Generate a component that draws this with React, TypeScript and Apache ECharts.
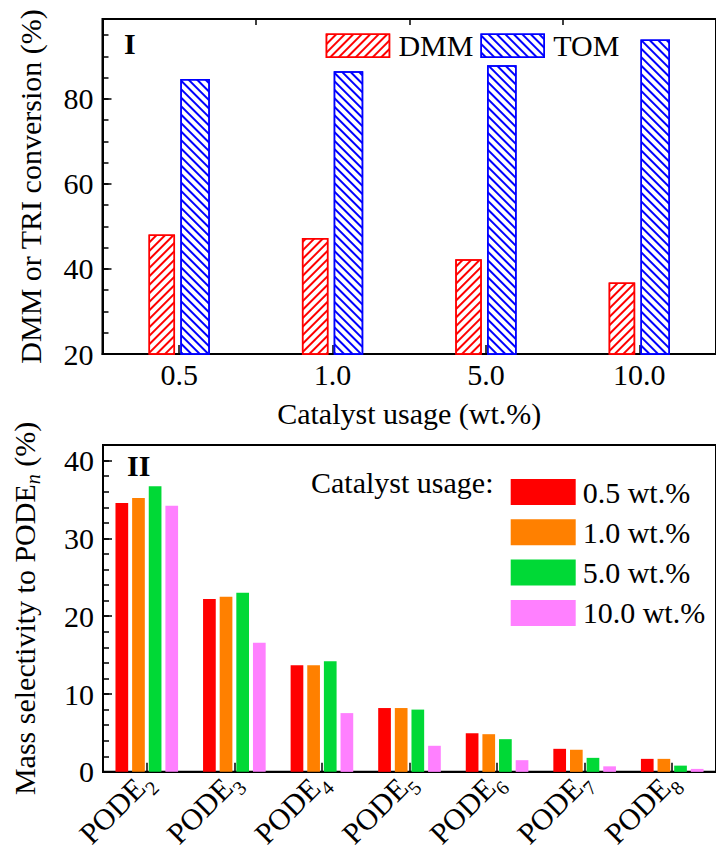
import React, { useEffect, useRef } from 'react';
import * as echarts from 'echarts';

// ---------- Data ----------
const usageCats = ['0.5', '1.0', '5.0', '10.0'];
const dmmConv = [48.1, 47.3, 42.3, 36.8];
const tomConv = [84.7, 86.5, 87.9, 94.0];

const podeCats = ['2', '3', '4', '5', '6', '7', '8'];
const sel05 = [34.55, 22.2, 13.7, 8.2, 4.96, 2.96, 1.67];
const sel10 = [35.2, 22.5, 13.7, 8.2, 4.84, 2.84, 1.67];
const sel50 = [36.7, 23.0, 14.2, 8.0, 4.2, 1.8, 0.8];
const sel100 = [34.2, 16.6, 7.55, 3.35, 1.5, 0.71, 0.38];
const usageLegend = ['0.5 wt.%', '1.0 wt.%', '5.0 wt.%', '10.0 wt.%'];
const usageColors = ['#ff0000', '#ff8000', '#00d936', '#ff80ff'];

const FONT = 'Liberation Serif';
const txt = { fontFamily: FONT, fontSize: 30, color: '#000' };

export default function App() {
  const ref = useRef<HTMLDivElement>(null);
  useEffect(() => {
    if (!ref.current) return;
    const chart = echarts.init(ref.current, undefined, { renderer: 'svg' });
    const axisLine = { show: true, onZero: false, lineStyle: { color: '#000', width: 2 } };
    const hatch = (color: string, rot: number) => ({
      symbol: 'rect',
      symbolSize: 1,
      dashArrayX: [1, 0],
      dashArrayY: [1.3, 3.5],
      rotation: rot,
      color,
    });
    const selSeries = [sel05, sel10, sel50, sel100].map((d, i) => ({
      name: usageLegend[i],
      type: 'bar',
      xAxisIndex: 2,
      yAxisIndex: 2,
      data: d,
      barWidth: 12.7,
      barGap: '31%',
      itemStyle: { color: usageColors[i] },
    }));
    const option: any = {
      animation: false,
      backgroundColor: '#fff',
      textStyle: { fontFamily: FONT },
      grid: [
        { left: 102.5, top: 19, width: 614.5, height: 335, show: true, borderColor: '#000', borderWidth: 2 },
        { left: 103, top: 445, width: 614.6, height: 336, show: true, borderColor: '#000', borderWidth: 2 },
      ],
      legend: [
        {
          data: ['DMM', 'TOM'],
          left: 325.7,
          top: 30.7,
          padding: 0,
          icon: 'rect',
          itemWidth: 63,
          itemHeight: 23,
          itemGap: 7,
          selectedMode: false,
          itemStyle: { borderWidth: 1.5 },
          textStyle: { ...txt, lineHeight: 24, padding: [0, 0, 0, 4] },
        },
        {
          data: usageLegend,
          orient: 'vertical',
          left: 510.7,
          top: 477,
          padding: 0,
          icon: 'rect',
          itemWidth: 65,
          itemHeight: 26,
          itemGap: 10.3,
          selectedMode: false,
          textStyle: { ...txt, lineHeight: 26, padding: [0, 0, 0, 2] },
        },
      ],
      xAxis: [
        {
          gridIndex: 0,
          type: 'category',
          data: usageCats,
          axisLine,
          axisTick: { show: true, inside: true, alignWithLabel: true, length: 9, lineStyle: { color: '#000', width: 1.5 } },
          axisLabel: { ...txt, margin: 5 },
          name: 'Catalyst usage (wt.%)',
          nameLocation: 'middle',
          nameGap: 44,
          nameTextStyle: txt,
          splitLine: { show: false },
        },
        {
          gridIndex: 0,
          type: 'category',
          data: usageCats,
          axisLine: { show: false },
          axisTick: { show: true, inside: true, length: 6, lineStyle: { color: '#000', width: 1.5 } },
          axisLabel: { show: false },
          splitLine: { show: false },
        },
        {
          gridIndex: 1,
          type: 'category',
          data: podeCats,
          axisLine,
          axisTick: { show: true, inside: true, alignWithLabel: true, length: 9, lineStyle: { color: '#000', width: 1.5 } },
          axisLabel: {
            rotate: 45,
            margin: 4,
            formatter: (v: string) => `{a|PODE}{b|${v}}`,
            rich: {
              a: { ...txt },
              b: { ...txt, fontSize: 20, padding: [24, 0, 0, 0] },
            },
          },
          splitLine: { show: false },
        },
      ],
      yAxis: [
        {
          gridIndex: 0,
          type: 'value',
          min: 20,
          max: 98.8,
          interval: 20,
          position: 'left',
          axisLine,
          axisTick: { show: true, inside: true, length: 9, lineStyle: { color: '#000', width: 1.5 } },
          axisLabel: { ...txt, margin: 9, showMaxLabel: false },
          splitLine: { show: false },
          name: 'DMM or TRI conversion (%)',
          nameLocation: 'middle',
          nameRotate: 90,
          nameGap: 57,
          nameTextStyle: txt,
        },
        {
          gridIndex: 0,
          type: 'value',
          min: 20,
          max: 98.8,
          interval: 5,
          position: 'left',
          axisLine: { show: false },
          axisTick: { show: true, inside: true, length: 6, lineStyle: { color: '#000', width: 1.5 } },
          axisLabel: { show: false },
          splitLine: { show: false },
        },
        {
          gridIndex: 1,
          type: 'value',
          min: 0,
          max: 42,
          interval: 10,
          position: 'left',
          axisLine,
          axisTick: { show: true, inside: true, length: 9, lineStyle: { color: '#000', width: 1.5 } },
          axisLabel: { ...txt, margin: 9, showMaxLabel: false },
          splitLine: { show: false },
          name: '{a|Mass selectivity to PODE}{n|n}{a| (%)}',
          nameLocation: 'middle',
          nameRotate: 90,
          nameGap: 60,
          nameTextStyle: {
            ...txt,
            rich: {
              a: { ...txt },
              n: { ...txt, fontSize: 20, fontStyle: 'italic', padding: [18, 0, 0, 0] },
            },
          },
        },
        {
          gridIndex: 1,
          type: 'value',
          min: 0,
          max: 42,
          interval: 2,
          position: 'left',
          axisLine: { show: false },
          axisTick: { show: true, inside: true, length: 6, lineStyle: { color: '#000', width: 1.5 } },
          axisLabel: { show: false },
          splitLine: { show: false },
        },
      ],
      graphic: [
        { type: 'text', left: 124, top: 28, style: { text: 'I', font: `bold 30px ${FONT}`, fill: '#000' } },
        { type: 'text', left: 127, top: 450, style: { text: 'II', font: `bold 30px ${FONT}`, fill: '#000' } },
        { type: 'text', left: 311, top: 467, style: { text: 'Catalyst usage:', font: `30px ${FONT}`, fill: '#000' } },
      ],
      series: [
        {
          name: 'DMM',
          type: 'bar',
          xAxisIndex: 0,
          yAxisIndex: 0,
          data: dmmConv,
          barWidth: 26.5,
          barGap: '20%',
          itemStyle: { color: '#fff', borderColor: '#ff0000', borderWidth: 1.5, decal: hatch('#ff0000', -Math.PI / 4) },
        },
        {
          name: 'TOM',
          type: 'bar',
          xAxisIndex: 0,
          yAxisIndex: 0,
          data: tomConv,
          barWidth: 29.5,
          barGap: '20%',
          itemStyle: { color: '#fff', borderColor: '#0000ff', borderWidth: 1.5, decal: hatch('#0000ff', Math.PI / 4) },
        },
        ...selSeries,
      ],
    };
    chart.setOption(option);
    return () => chart.dispose();
  }, []);
  return (
    <div
      ref={ref}
      style={{ position: 'absolute', left: 0, top: 0, width: 716, height: 856, background: '#fff' }}
    />
  );
}
